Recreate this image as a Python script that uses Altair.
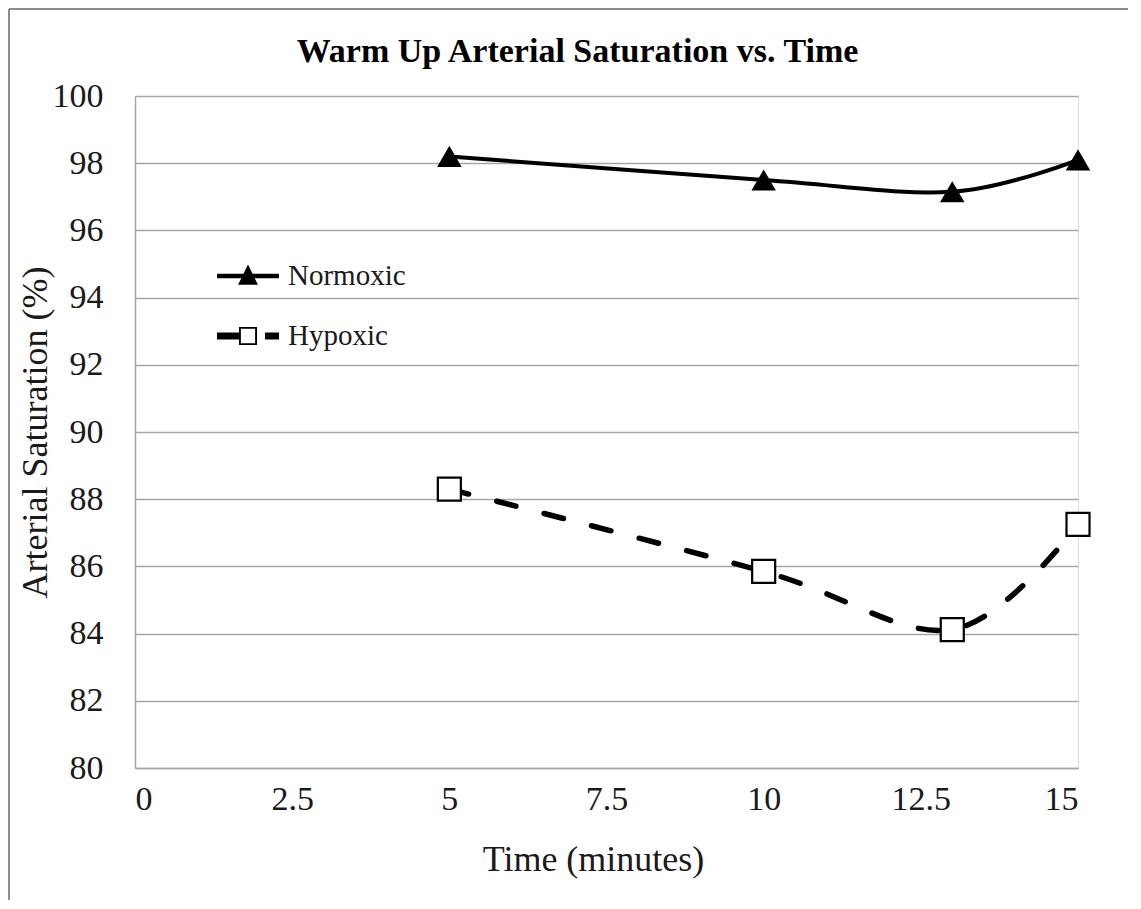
import altair as alt
import pandas as pd

# ---- data ----
times = [5, 10, 13, 15]
normoxic = [98.2, 97.5, 97.15, 98.1]
hypoxic = [88.3, 85.85, 84.12, 87.25]
series_names = ["Normoxic", "Hypoxic"]
x_ticks = [0, 2.5, 5, 7.5, 10, 12.5, 15]
y_ticks = list(range(80, 101, 2))

rows = []
for t, v in zip(times, normoxic):
    rows.append({"time": t, "sat": v, "series": "Normoxic"})
for t, v in zip(times, hypoxic):
    rows.append({"time": t, "sat": v, "series": "Hypoxic"})
df = pd.DataFrame(rows)

FONT = "Liberation Serif"
GRID = "#a6a6a6"

x_enc = alt.X(
    "time:Q",
    scale=alt.Scale(domain=[0, 15], nice=False, zero=False),
    axis=alt.Axis(
        values=x_ticks, format=".3~g", title="Time (minutes)", grid=False, ticks=False,
        domainColor=GRID, domainWidth=1.5, labelFont=FONT, labelFontSize=34,
        labelColor="#1a1a1a", labelPadding=14, titleFont=FONT, titleFontSize=36,
        titleFontWeight="normal", titleColor="#1a1a1a", titleBaseline="alphabetic",
        titleX=458, titleY=102,
    ),
)
y_enc = alt.Y(
    "sat:Q",
    scale=alt.Scale(domain=[80, 100], nice=False, zero=False),
    axis=alt.Axis(
        values=y_ticks, title="Arterial Saturation (%)", grid=True, gridColor=GRID,
        gridWidth=1.5, ticks=False, domainColor=GRID, domainWidth=1.5,
        labelFont=FONT, labelFontSize=34, labelColor="#1a1a1a", labelPadding=32,
        titleFont=FONT, titleFontSize=36, titleFontWeight="normal", titleColor="#1a1a1a",
        titleAngle=-90, titleBaseline="alphabetic", titleX=-89, titleY=336,
    ),
)

base = alt.Chart(df)

line_n = base.transform_filter(alt.datum.series == "Normoxic").mark_line(
    color="black", strokeWidth=4, interpolate="cardinal"
).encode(x=x_enc, y=y_enc)

line_h = base.transform_filter(alt.datum.series == "Hypoxic").mark_line(
    color="black", strokeWidth=5.5, interpolate="cardinal", strokeDash=[20, 29], strokeCap="round"
).encode(x=x_enc, y=y_enc)

pts_n = base.transform_filter(alt.datum.series == "Normoxic").mark_point(
    shape="triangle-up", filled=True, color="black", size=600, opacity=1
).encode(x=x_enc, y=y_enc)

pts_h = base.transform_filter(alt.datum.series == "Hypoxic").mark_point(
    shape="square", filled=False, fill="white", stroke="black", strokeWidth=2.2, size=530, opacity=1
).encode(x=x_enc, y=y_enc)

# legend symbols: line-with-marker glyphs as custom symbol paths
sym_normoxic = "M-1,-0.07H1V0.07H-1Z M0,-0.37L0.32,0.28L-0.32,0.28Z"
sym_hypoxic = ("M-1,-0.11H-0.29V0.11H-1Z M-0.29,-0.29H0.29V0.29H-0.29Z "
               "M-0.23,-0.23V0.23H0.23V-0.23Z M0.55,-0.11H1V0.11H0.55Z")

legend_layer = base.transform_filter("false").mark_point(
    filled=True, color="black", opacity=1
).encode(
    x=x_enc, y=y_enc,
    shape=alt.Shape(
        "series:N",
        scale=alt.Scale(domain=series_names, range=[sym_normoxic, sym_hypoxic]),
        legend=alt.Legend(
            title=None, orient="none", legendX=82, legendY=149, direction="vertical",
            symbolSize=3844, symbolFillColor="black", symbolStrokeWidth=0, symbolOpacity=1,
            labelFont=FONT, labelFontSize=29, labelColor="#1a1a1a", labelOffset=9,
            rowPadding=14, padding=0, offset=0,
        ),
    ),
)

# outer chart frame (top and left edges visible in the reference)
frame_df = pd.DataFrame({"k": [0]})
frame_top = alt.Chart(frame_df).mark_rule(color="#8c8c8c", strokeWidth=2).encode(
    x=alt.value(-126), x2=alt.value(1010), y=alt.value(-87)
)
frame_left = alt.Chart(frame_df).mark_rule(color="#8c8c8c", strokeWidth=2).encode(
    x=alt.value(-126), y=alt.value(-87), y2=alt.value(805)
)

chart = alt.layer(
    line_n, line_h, pts_n, pts_h, legend_layer, frame_top, frame_left
).properties(
    width=943,
    height=672,
    title=alt.TitleParams(
        "Warm Up Arterial Saturation vs. Time", font=FONT, fontSize=34, fontWeight="bold",
        color="black", anchor="middle", frame="group", dx=-29, offset=14,
        baseline="alphabetic", dy=102,
    ),
    autosize=alt.AutoSizeParams(type="none"),
    padding={"left": 127, "top": 88, "right": 50, "bottom": 132},
).configure_view(stroke=None).configure(background="white")

chart.save("out.html", embed_options={"renderer": "svg", "actions": False})
